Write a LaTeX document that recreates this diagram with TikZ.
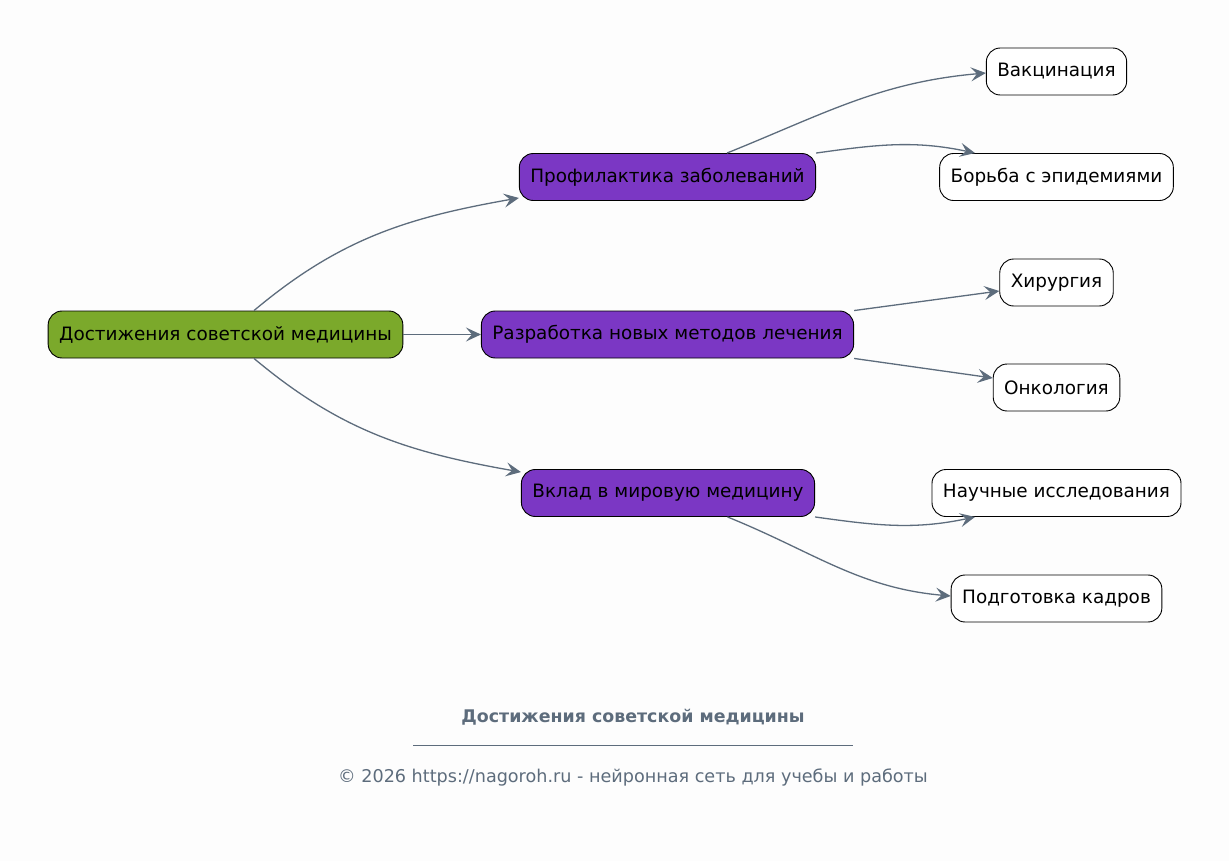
\documentclass[tikz,border=0pt]{standalone}
\usepackage{fontspec}
\setmainfont{DejaVu Sans}
\usetikzlibrary{arrows.meta}
\definecolor{rootgreen}{RGB}{123,169,43}
\definecolor{branchpurple}{RGB}{123,55,196}
\definecolor{edgegray}{RGB}{93,108,124}
\definecolor{bgpaper}{RGB}{253,253,253}
\begin{document}
\begin{tikzpicture}
    [ x=1pt, y=1pt
    , every node/.style={draw=black, line width=0.9pt, rounded corners=14pt, minimum height=47pt, inner xsep=11pt, font=\fontsize{18.4}{22}\selectfont}
    , rootbox/.style={fill=rootgreen}
    , branchbox/.style={fill=branchpurple}
    , leafbox/.style={fill=white}
    , link/.style={draw=edgegray, line width=1.3pt, -{Stealth[length=15pt, width=14pt, inset=6pt]}}
    ]
\fill[bgpaper] (0,0) rectangle (1229,-861);
\useasboundingbox (0,0) rectangle (1229,-861);
\node[rootbox] (root) at (225.5,-334.5) {Достижения советской медицины};
\node[branchbox] (prof) at (667.5,-177) {Профилактика заболеваний};
\node[branchbox] (razr) at (667.5,-334.5) {Разработка новых методов лечения};
\node[branchbox] (vklad) at (668,-493) {Вклад в мировую медицину};
\node[leafbox] (vakc) at (1056.5,-71.5) {Вакцинация};
\node[leafbox] (borba) at (1056.5,-177) {Борьба с эпидемиями};
\node[leafbox] (hir) at (1056.5,-282.5) {Хирургия};
\node[leafbox] (onk) at (1056.5,-387.5) {Онкология};
\node[leafbox] (nauch) at (1056.5,-493) {Научные исследования};
\node[leafbox] (podg) at (1056.5,-598.5) {Подготовка кадров};
\draw[link] ([xshift=28.5]root.north) to[out=40,in=190] ([yshift=3]prof.south west);
\draw[link] (root.east) -- (razr.west);
\draw[link] ([xshift=28.5]root.south) to[out=-40,in=170] ([yshift=-3]vklad.north west);
\draw[link] ([xshift=59.5]prof.north) to[out=22,in=185] ([yshift=-1.5]vakc.west);
\draw[link] (prof.north east) to[out=8,in=168] ([xshift=-81.5]borba.north);
\draw[link] (razr.north east) -- ([yshift=-8.5]hir.west);
\draw[link] (razr.south east) -- ([yshift=9.5]onk.west);
\draw[link] (vklad.south east) to[out=-8,in=192] ([xshift=-81.5]nauch.south);
\draw[link] ([xshift=59.5]vklad.south) to[out=-22,in=175] ([yshift=2.5]podg.west);
% footer
\node[draw=none, rounded corners=0pt, text=edgegray, font=\fontsize{17.4}{20}\selectfont\bfseries] (title) at (633,-717) {Достижения советской медицины};
\coordinate (ruleL) at (413,-745);
\coordinate (ruleR) at (853,-745);
\draw[edgegray, line width=0.8pt] (ruleL) -- (ruleR);
\node[draw=none, rounded corners=0pt, text=edgegray, font=\fontsize{17.6}{20}\selectfont] (copy) at (633,-777) {© 2026 https://nagoroh.ru - нейронная сеть для учебы и работы};
\end{tikzpicture}
\end{document}
